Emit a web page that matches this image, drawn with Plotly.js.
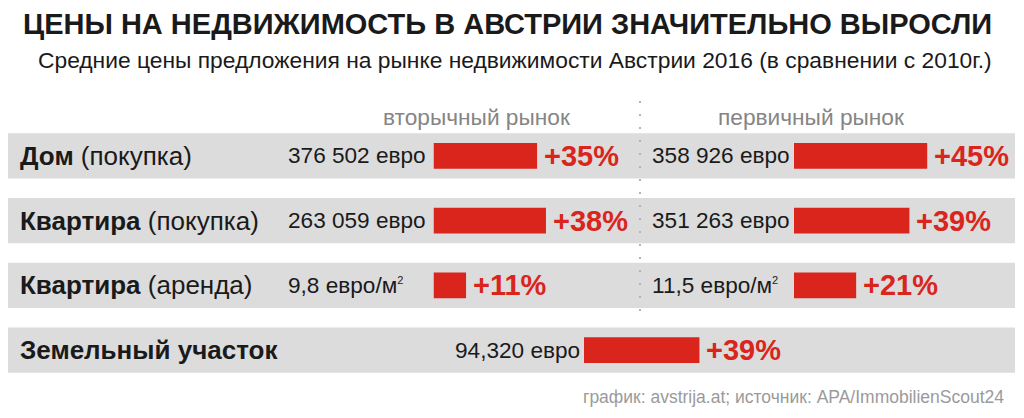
<!DOCTYPE html>
<html>
<head>
<meta charset="utf-8">
<script src="https://cdn.plot.ly/plotly-3.0.1.min.js"></script>
<style>html,body{margin:0;padding:0;background:#fff;}#chart{width:1024px;height:418px;}</style>
</head>
<body>
<div id="chart"></div>
<script>
// ---- data ----
const categories = ['Дом (покупка)', 'Квартира (покупка)', 'Квартира (аренда)', 'Земельный участок'];
const rowLabels = ['<b>Дом</b> (покупка)', '<b>Квартира</b> (покупка)', '<b>Квартира</b> (аренда)', '<b>Земельный участок</b>'];
const secondaryCats = ['Дом (покупка)', 'Квартира (покупка)', 'Квартира (аренда)'];
const secondaryPrice = ['376 502 евро', '263 059 евро', '9,8 евро/м<sup><span style="font-size:11px">2</span></sup>'];
const secondaryChange = [35, 38, 11];
const primaryCats = ['Дом (покупка)', 'Квартира (покупка)', 'Квартира (аренда)'];
const primaryPrice = ['358 926 евро', '351 263 евро', '11,5 евро/м<sup><span style="font-size:11px">2</span></sup>'];
const primaryChange = [45, 39, 21];
const landCats = ['Земельный участок'];
const landPrice = ['94,320 евро'];
const landChange = [39];
const headers = ['вторычный рынок', 'первичный рынок'];
const title = 'ЦЕНЫ НА НЕДВИЖИМОСТЬ В АВСТРИИ ЗНАЧИТЕЛЬНО ВЫРОСЛИ';
const subtitle = 'Средние цены предложения на рынке недвижимости Австрии 2016 (в сравнении с 2010г.)';
const footer = 'график: avstrija.at; источник: APA/ImmobilienScout24';

// ---- layout helpers ----
const W = 1024, H = 418;
const px = v => v / W;
const py = v => 1 - v / H;
const PXPER = 2.96; // pixels per percentage point
const RED = '#da251d';
const FONT = 'Liberation Sans, Arial, sans-serif';

function axisFrom(startPx) {
  return {domain: [px(startPx), 1], range: [0, (W - startPx) / PXPER], visible: false, fixedrange: true};
}

const barCommon = {type: 'bar', orientation: 'h', marker: {color: RED, line: {width: 0}}, width: 0.4, hoverinfo: 'skip', yaxis: 'y'};
const traces = [
  Object.assign({}, barCommon, {x: secondaryChange, y: secondaryCats, xaxis: 'x'}),
  Object.assign({}, barCommon, {x: primaryChange, y: primaryCats, xaxis: 'x2'}),
  Object.assign({}, barCommon, {x: landChange, y: landCats, xaxis: 'x3'})
];

const annotations = [];
// title & subtitle
annotations.push({xref: 'paper', yref: 'paper', x: px(507), y: py(24), xanchor: 'center', yanchor: 'middle', showarrow: false,
  text: '<b>' + title + '</b>', font: {family: FONT, size: 29, color: '#1a1a1a'}});
annotations.push({xref: 'paper', yref: 'paper', x: px(515), y: py(60), xanchor: 'center', yanchor: 'middle', showarrow: false,
  text: subtitle, font: {family: FONT, size: 22.8, color: '#1a1a1a'}});
// column headers
annotations.push({xref: 'paper', yref: 'paper', x: px(477), y: py(117), xanchor: 'center', yanchor: 'middle', showarrow: false,
  text: headers[0], font: {family: FONT, size: 22.7, color: '#858585'}});
annotations.push({xref: 'paper', yref: 'paper', x: px(811), y: py(117), xanchor: 'center', yanchor: 'middle', showarrow: false,
  text: headers[1], font: {family: FONT, size: 22.7, color: '#858585'}});
// footer
annotations.push({xref: 'paper', yref: 'paper', x: px(1006), y: py(397), xanchor: 'right', yanchor: 'middle', showarrow: false,
  text: footer, font: {family: FONT, size: 17.5, color: '#9a9a9a'}});
// row labels
categories.forEach((c, i) => annotations.push({xref: 'paper', yref: 'y', x: px(18), y: c, xanchor: 'left', yanchor: 'middle', showarrow: false,
  text: rowLabels[i], font: {family: FONT, size: 26, color: '#1a1a1a'}}));
// price labels and percentage labels
function addGroup(cats, prices, changes, priceX, xaxisName) {
  cats.forEach((c, i) => {
    annotations.push({xref: 'paper', yref: 'y', x: px(priceX), y: c, xanchor: 'left', yanchor: 'middle', showarrow: false,
      text: prices[i], font: {family: FONT, size: 22.6, color: '#1a1a1a'}});
    annotations.push({xref: xaxisName, yref: 'y', x: changes[i], y: c, xanchor: 'left', yanchor: 'middle', xshift: 5, showarrow: false,
      text: '<b>+' + changes[i] + '%</b>', font: {family: FONT, size: 29, color: RED}});
  });
}
addGroup(secondaryCats, secondaryPrice, secondaryChange, 286, 'x');
addGroup(primaryCats, primaryPrice, primaryChange, 650, 'x2');
addGroup(landCats, landPrice, landChange, 453, 'x3');

// shapes: gray row bands + dotted divider
const shapes = categories.map((c, i) => ({type: 'rect', layer: 'below', xref: 'paper', yref: 'y',
  x0: px(8), x1: px(1015), y0: i - 0.35, y1: i + 0.35, fillcolor: '#dcdcdc', line: {width: 0}}));
shapes.push({type: 'line', layer: 'above', xref: 'paper', yref: 'paper', x0: px(640), x1: px(640), y0: py(101), y1: py(322),
  line: {color: '#b5b5b5', width: 2, dash: '2px,11px'}});

const layout = {
  width: W, height: H, margin: {l: 0, r: 0, t: 0, b: 0}, paper_bgcolor: '#fff', plot_bgcolor: 'rgba(0,0,0,0)',
  showlegend: false, barmode: 'overlay',
  xaxis: axisFrom(433.5), xaxis2: axisFrom(794), xaxis3: axisFrom(584),
  yaxis: {type: 'category', categoryorder: 'array', categoryarray: categories, range: [3.5, -0.5],
    domain: [py(382.5), py(123.5)], visible: false, fixedrange: true},
  annotations: annotations, shapes: shapes
};
Plotly.newPlot('chart', traces, layout, {staticPlot: true, displayModeBar: false});
</script>
</body>
</html>
